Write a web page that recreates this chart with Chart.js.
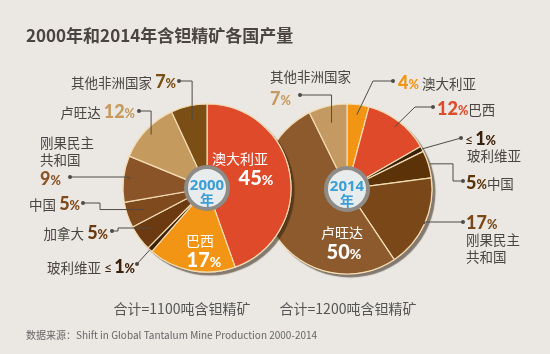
<!DOCTYPE html>
<html>
<head>
<meta charset="utf-8">
<script src="https://cdn.jsdelivr.net/npm/chart.js@4.4.1/dist/chart.umd.min.js"></script>
<style>
    body { margin: 0; background: #ebe8e3; }
    #wrap { position: relative; width: 550px; height: 354px; overflow: hidden;
            font-family: "Noto Sans CJK SC", "Noto Sans", sans-serif; color: #4a4542; }
    canvas { position: absolute; left: 0; top: 0; }
    .t { position: absolute; white-space: nowrap; line-height: 1; display: flex; align-items: baseline; font-size: 13.5px; }
    .num { font-family: "Lato", "Noto Sans", sans-serif; font-weight: 900; font-size: 18px; }
    .pc { font-size: 0.7em; }
</style>
</head>
<body>
<div id="wrap">
    <canvas id="pie2014" width="550" height="354"></canvas>
    <canvas id="pie2000" width="550" height="354"></canvas>
</div>
<script>
// 数据
const countries2000 = ['澳大利亚', '巴西', '玻利维亚', '加拿大', '中国', '刚果民主共和国', '卢旺达', '其他非洲国家'];
const share2000 = [45, 17, 1, 5, 5, 9, 12, 7];
const countries2014 = ['澳大利亚', '巴西', '玻利维亚', '中国', '刚果民主共和国', '卢旺达', '其他非洲国家'];
const share2014 = [4, 12, 1, 5, 17, 50, 7];
const years = ['2000', '2014'];
const totals = ['合计=1100吨含钽精矿', '合计=1200吨含钽精矿'];
const title = '2000年和2014年含钽精矿各国产量';
const source = '数据来源：Shift in Global Tantalum Mine Production 2000-2014';

const colors2000 = ['#de4a2a', '#f29514', '#3a2008', '#6b3a10', '#7e4a1e', '#8a5428', '#c49a5e', '#7a4e14'];
const colors2014 = ['#f29514', '#de4a2a', '#3a2008', '#5c3208', '#7a4818', '#8c5a2c', '#c59a62'];

const wrap = document.getElementById('wrap');

function pct(v) {
    if (v <= 1) return '<span style="font-weight:normal;font-size:14px;margin-right:2px">≤</span>' + v + '<span class="pc">%</span>';
    return v + '<span class="pc">%</span>';
}

// 文本标签: align l / r / c
function label(x, y, html, align, extra) {
    const d = document.createElement('div');
    d.className = 't';
    d.innerHTML = html;
    d.style.left = x + 'px';
    d.style.top = y + 'px';
    const tx = align === 'r' ? '-100%' : align === 'c' ? '-50%' : '0';
    d.style.transform = 'translate(' + tx + ',-50%)';
    if (extra) d.style.cssText += extra;
    wrap.appendChild(d);
}
function num(v, color, size) {
    return '<span class="num" style="color:' + color + (size ? ';font-size:' + size + 'px' : '') + '">' + pct(v) + '</span>';
}

// 饼图装饰: 阴影, 中心圆, 引线
const pieDeco = {
    id: 'pieDeco',
    beforeDatasetsDraw(chart, args, opts) {
        const a = chart.getDatasetMeta(0).data[0];
        const ctx = chart.ctx;
        ctx.save();
        ctx.shadowColor = 'rgba(45,30,15,0.55)';
        ctx.shadowOffsetX = 3;
        ctx.shadowOffsetY = 3;
        ctx.shadowBlur = 1;
        ctx.beginPath();
        ctx.arc(a.x, a.y, a.outerRadius + 0.5, 0, Math.PI * 2);
        ctx.fillStyle = '#f3dcb4';
        ctx.fill();
        ctx.restore();
    },
    afterDatasetsDraw(chart, args, opts) {
        const meta = chart.getDatasetMeta(0);
        const a0 = meta.data[0];
        const ctx = chart.ctx;
        ctx.save();
        ctx.beginPath();
        ctx.arc(a0.x, a0.y, opts.hole, 0, Math.PI * 2);
        ctx.fillStyle = '#e8ecec';
        ctx.fill();
        ctx.lineWidth = 4;
        ctx.strokeStyle = '#8f8b86';
        ctx.stroke();

        ctx.strokeStyle = '#4f4b47';
        ctx.fillStyle = '#4f4b47';
        ctx.lineWidth = 1;
        opts.leaders.forEach(l => {
            const a = meta.data[l.i];
            const mid = (a.startAngle + a.endAngle) / 2;
            const r = a.outerRadius * l.f;
            const ex = a.x + r * Math.cos(mid);
            const ey = a.y + r * Math.sin(mid);
            const pts = [[l.dx, l.dy]];
            if (l.via === 'h') pts.push([ex, l.dy]);
            if (l.via === 'hvh') { pts.push([l.mx, l.dy]); pts.push([l.mx, ey]); }
            if (l.via === 'hd') pts.push([l.mx, l.dy]);
            pts.push([ex, ey]);
            ctx.beginPath();
            pts.forEach((p, k) => k ? ctx.lineTo(p[0], p[1]) : ctx.moveTo(p[0], p[1]));
            ctx.stroke();
            ctx.beginPath();
            ctx.arc(l.dx, l.dy, 2, 0, Math.PI * 2);
            ctx.fill();
        });
        ctx.restore();
    }
};

function makePie(id, labels, data, colors, cx, cy, radius, leaders) {
    const padX = 2 * cx - 550, padY = 2 * cy - 354;
    return new Chart(document.getElementById(id), {
        type: 'doughnut',
        data: {
            labels: labels,
            datasets: [{
                data: data,
                backgroundColor: colors,
                borderColor: '#f3dcb4',
                borderWidth: 1.2
            }]
        },
        options: {
            responsive: false,
            animation: false,
            radius: radius,
            cutout: 20,
            layout: { padding: { left: Math.max(padX, 0), right: Math.max(-padX, 0), top: Math.max(padY, 0), bottom: Math.max(-padY, 0) } },
            plugins: {
                legend: { display: false },
                tooltip: { enabled: false },
                pieDeco: { hole: 21, leaders: leaders }
            }
        },
        plugins: [pieDeco]
    });
}

makePie('pie2014', countries2014, share2014, colors2014, 347, 189, 85, [
    { i: 6, dx: 300, dy: 95, via: 'h', f: 0.8 },
    { i: 0, dx: 393, dy: 81, via: 'hd', mx: 373, f: 0.88 },
    { i: 1, dx: 433, dy: 107, via: 'hd', mx: 415, f: 0.92 },
    { i: 2, dx: 461, dy: 138, via: 'd', f: 1.0 },
    { i: 3, dx: 463, dy: 181, via: 'hvh', mx: 453, f: 1.02 },
    { i: 4, dx: 463, dy: 222, via: 'h', f: 1.0 }
]);

makePie('pie2000', countries2000, share2000, colors2000, 207, 188, 84, [
    { i: 7, dx: 179, dy: 81, via: 'h', f: 0.82 },
    { i: 6, dx: 139, dy: 111, via: 'h', f: 0.92 },
    { i: 5, dx: 70, dy: 177, via: 'h', f: 0.93 },
    { i: 4, dx: 83, dy: 203, via: 'hvh', mx: 100, f: 0.8 },
    { i: 3, dx: 112, dy: 231, via: 'hvh', mx: 118, f: 0.8 },
    { i: 2, dx: 137, dy: 264, via: 'd', f: 1.0 }
]);

// 标题与注释
label(26, 34, '<b style="font-size:17px">' + title + '</b>', 'l', 'color:#4a4542');
label(182, 308, totals[0], 'c', 'font-size:14px;color:#555');
label(348, 308, totals[1], 'c', 'font-size:14px;color:#555');
label(26, 335, source, 'l', 'font-size:10px;color:#666');

// 2000 外部标签
label(176, 81, countries2000[7] + '&nbsp;' + num(share2000[7], colors2000[7]), 'r');
label(135, 111, countries2000[6] + '&nbsp;' + num(share2000[6], colors2000[6]), 'r');
label(40, 143, '刚果民主', 'l');
label(40, 160, '共和国', 'l');
label(40, 178, num(share2000[5], colors2000[5]), 'l');
label(80, 203, countries2000[4] + '&nbsp;' + num(share2000[4], colors2000[4]), 'r');
label(108, 232, countries2000[3] + '&nbsp;' + num(share2000[3], colors2000[3]), 'r');
label(135, 266, countries2000[2] + '&nbsp;' + num(share2000[2], colors2000[2]), 'r');

// 2000 内部标签
label(240, 158, countries2000[0], 'c', 'color:#fff;font-size:14px');
label(256, 177, num(share2000[0], '#fff', 20), 'c');
label(200, 240, countries2000[1], 'c', 'color:#fff;font-size:14px');
label(204, 259, num(share2000[1], '#fff', 20), 'c');

// 2014 外部标签
label(270, 77, countries2014[6], 'l');
label(270, 98, num(share2014[6], colors2014[6]), 'l');
label(398, 82, num(share2014[0], colors2014[0]) + '&nbsp;' + countries2014[0], 'l');
label(437, 108, num(share2014[1], colors2014[1]) + countries2014[1], 'l');
label(465, 138, num(share2014[2], colors2014[2]), 'l');
label(467, 156, countries2014[2], 'l');
label(466, 182, num(share2014[3], colors2014[3]) + countries2014[3], 'l');
label(466, 222, num(share2014[4], colors2014[4]), 'l');
label(466, 240, '刚果民主', 'l');
label(466, 257, '共和国', 'l');

// 2014 内部标签
label(342, 232, countries2014[5], 'c', 'color:#fff;font-size:14px');
label(344, 251, num(share2014[5], '#fff', 20), 'c');

// 中心年份
const yearFont = 'color:#3a9fd6;font-family:"Open Sans",sans-serif;font-weight:700;font-size:15px';
const nianFont = 'color:#3a9fd6;font-family:"Noto Sans CJK SC",sans-serif;font-weight:700;font-size:14px';
label(207, 184, years[0], 'c', yearFont);
label(207, 199, '年', 'c', nianFont);
label(347, 185, years[1], 'c', yearFont);
label(347, 200, '年', 'c', nianFont);
</script>
</body>
</html>
